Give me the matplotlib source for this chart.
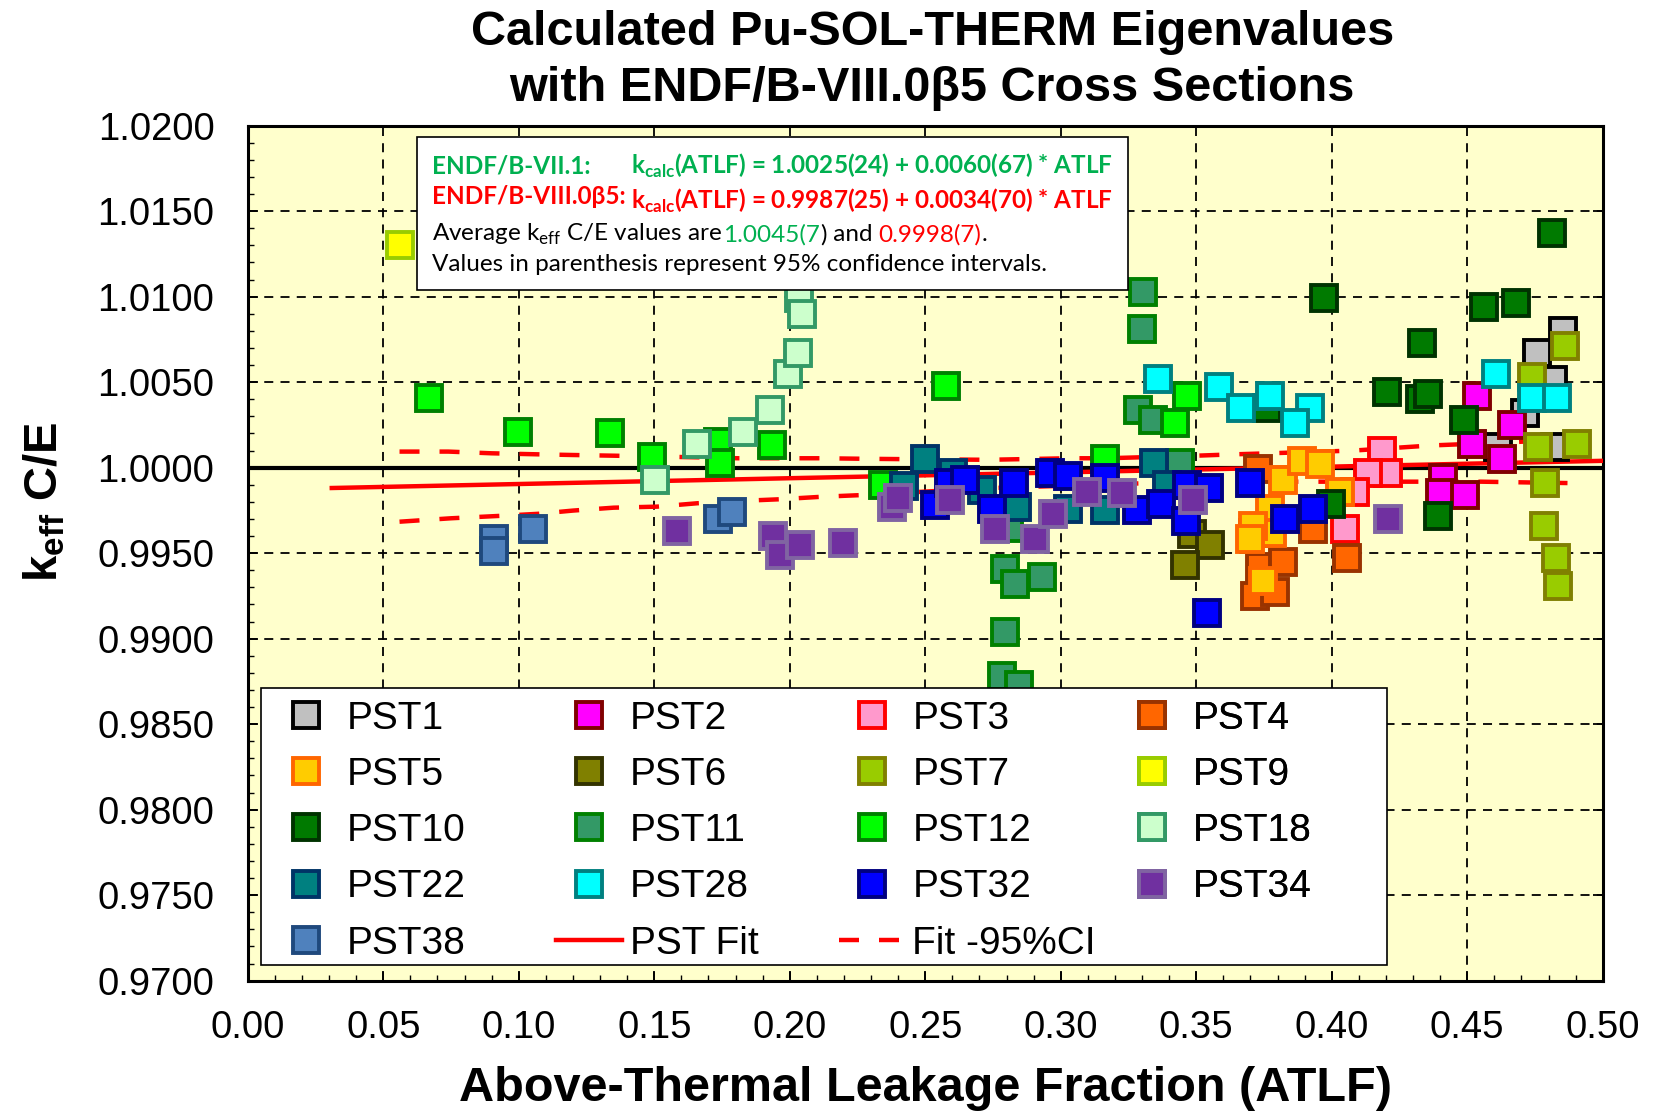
import matplotlib
matplotlib.use("Agg")
import matplotlib.pyplot as plt
from matplotlib.ticker import MultipleLocator, FormatStrFormatter
from matplotlib.offsetbox import TextArea, HPacker, VPacker, AnchoredOffsetbox
from matplotlib.patches import Rectangle

plt.rcParams["font.family"] = ["Liberation Sans", "DejaVu Sans"]
plt.rcParams["mathtext.fontset"] = "custom"
plt.rcParams["mathtext.rm"] = "Lato"
plt.rcParams["mathtext.bf"] = "Lato:bold"
plt.rcParams["mathtext.sf"] = "Liberation Sans:bold"

# ---- data (ATLF, keff C/E) ----
pst1_x = [0.4854, 0.4756, 0.4817, 0.4713, 0.4614, 0.4823]
pst1_y = [1.0080, 1.0067, 1.0051, 1.0032, 1.0012, 1.0012]
pst2_x = [0.4536, 0.4664, 0.4516, 0.4627, 0.4411, 0.4399, 0.4491]
pst2_y = [1.0042, 1.0025, 1.0014, 1.0005, 0.9994, 0.9985, 0.9984]
pst3_x = [0.4184, 0.4209, 0.4135, 0.4086, 0.4049]
pst3_y = [1.0010, 0.9997, 0.9997, 0.9986, 0.9964]
pst4_x = [0.3729, 0.3710, 0.3735, 0.3821, 0.3717, 0.3790, 0.3932, 0.4055]
pst4_y = [0.9999, 0.9962, 0.9942, 0.9945, 0.9925, 0.9927, 0.9964, 0.9947]
pst5_x = [0.3821, 0.3889, 0.3956, 0.4030, 0.3772, 0.3778, 0.3710, 0.3698, 0.3747]
pst5_y = [0.9993, 1.0004, 1.0002, 0.9986, 0.9976, 0.9962, 0.9966, 0.9958, 0.9934]
pst6_x = [0.3483, 0.3551, 0.3458]
pst6_y = [0.9961, 0.9955, 0.9943]
pst7_x = [0.4860, 0.4738, 0.4762, 0.4904, 0.4787, 0.4782, 0.4829, 0.4834]
pst7_y = [1.0071, 1.0053, 1.0012, 1.0014, 0.9991, 0.9966, 0.9947, 0.9931]
pst9_x = [0.0563]
pst9_y = [1.0130]
pst10_x = [0.4812, 0.3971, 0.4561, 0.4680, 0.4332, 0.4205, 0.4325, 0.4354,
           0.4489, 0.4393, 0.3999, 0.3760]
pst10_y = [1.0137, 1.0099, 1.0094, 1.0096, 1.0073, 1.0044, 1.0040, 1.0043,
           1.0028, 0.9972, 0.9979, 1.0035]
pst11_x = [0.3302, 0.3299, 0.3286, 0.3341, 0.3440, 0.2810, 0.2794, 0.2831,
           0.2929, 0.2794, 0.2782, 0.2847]
pst11_y = [1.0103, 1.0081, 1.0034, 1.0028, 1.0003, 0.9965, 0.9941, 0.9932,
           0.9936, 0.9904, 0.9878, 0.9873]
pst12_x = [0.0670, 0.0998, 0.1337, 0.1490, 0.1736, 0.1742, 0.1935, 0.2345,
           0.2575, 0.3163, 0.3421, 0.3465]
pst12_y = [1.0041, 1.0021, 1.0020, 1.0006, 1.0015, 1.0003, 1.0013, 0.9990,
           1.0048, 1.0005, 1.0026, 1.0042]
pst18_x = [0.1503, 0.1656, 0.1829, 0.1927, 0.1995, 0.2030, 0.2035, 0.2045]
pst18_y = [0.9993, 1.0014, 1.0021, 1.0034, 1.0055, 1.0067, 1.0099, 1.0090]
pst22_x = [0.2498, 0.2603, 0.2420, 0.2710, 0.2837, 0.3028, 0.3163, 0.3345, 0.3391]
pst22_y = [1.0005, 0.9997, 0.9989, 0.9987, 0.9977, 0.9976, 0.9975, 1.0003, 0.9990]
pst28_x = [0.3360, 0.3585, 0.3664, 0.3772, 0.3920, 0.3864, 0.4606, 0.4738, 0.4830]
pst28_y = [1.0052, 1.0047, 1.0035, 1.0042, 1.0035, 1.0026, 1.0055, 1.0041, 1.0041]
pst32_x = [0.2536, 0.2589, 0.2647, 0.2745, 0.2828, 0.2960, 0.3025, 0.3163,
           0.3280, 0.3369, 0.3467, 0.3462, 0.3548, 0.3538, 0.3698, 0.3827, 0.3932]
pst32_y = [0.9978, 0.9991, 0.9993, 0.9976, 0.9991, 0.9997, 0.9995, 0.9994,
           0.9975, 0.9979, 0.9990, 0.9969, 0.9988, 0.9915, 0.9991, 0.9970, 0.9976]
pst34_x = [0.1585, 0.1937, 0.1964, 0.2038, 0.2197, 0.2378, 0.2400, 0.2591,
           0.2757, 0.2905, 0.2972, 0.3096, 0.3225, 0.3489, 0.4209]
pst34_y = [0.9963, 0.9960, 0.9949, 0.9955, 0.9956, 0.9977, 0.9982, 0.9981,
           0.9964, 0.9958, 0.9973, 0.9986, 0.9985, 0.9981, 0.9970]
pst38_x = [0.0909, 0.0909, 0.1054, 0.1736, 0.1786]
pst38_y = [0.9958, 0.9951, 0.9964, 0.9970, 0.9974]

fit_x = [0.031, 0.500]
fit_y = [0.99881, 1.00040]
ci_up_x = [0.056, 0.074, 0.090, 0.107, 0.120, 0.135, 0.167, 0.181, 0.212, 0.227,
           0.241, 0.273, 0.303, 0.317, 0.350, 0.364, 0.377, 0.408, 0.437, 0.468, 0.480]
ci_up_y = [1.00094, 1.00094, 1.00084, 1.00078, 1.00074, 1.00070, 1.00060, 1.00055,
           1.00055, 1.00052, 1.00050, 1.00046, 1.00055, 1.00055, 1.00070, 1.00078,
           1.00084, 1.00100, 1.00130, 1.00150, 1.00160]
ci_lo_x = [0.056, 0.075, 0.093, 0.107, 0.120, 0.135, 0.151, 0.166, 0.181, 0.196,
           0.212, 0.227, 0.273, 0.333, 0.361, 0.393, 0.423, 0.455, 0.487]
ci_lo_y = [0.99684, 0.99704, 0.99718, 0.99730, 0.99749, 0.99766, 0.99772, 0.99792,
           0.99805, 0.99815, 0.99830, 0.99840, 0.99880, 0.99910, 0.99918, 0.99918,
           0.99918, 0.99918, 0.99910]

# label, x, y, face, edge
series = [
    ("PST1", pst1_x, pst1_y, "#C0C0C0", "#000000"),
    ("PST2", pst2_x, pst2_y, "#FF00FF", "#800000"),
    ("PST3", pst3_x, pst3_y, "#FF99CC", "#FF0000"),
    ("PST4", pst4_x, pst4_y, "#FF6600", "#993300"),
    ("PST5", pst5_x, pst5_y, "#FFCC00", "#FF6600"),
    ("PST6", pst6_x, pst6_y, "#808000", "#333300"),
    ("PST7", pst7_x, pst7_y, "#99CC00", "#808000"),
    ("PST9", pst9_x, pst9_y, "#FFFF00", "#99CC00"),
    ("PST10", pst10_x, pst10_y, "#007A00", "#003300"),
    ("PST11", pst11_x, pst11_y, "#339966", "#008000"),
    ("PST12", pst12_x, pst12_y, "#00FF00", "#008000"),
    ("PST18", pst18_x, pst18_y, "#CCFFCC", "#339966"),
    ("PST22", pst22_x, pst22_y, "#008080", "#003366"),
    ("PST28", pst28_x, pst28_y, "#00FFFF", "#008080"),
    ("PST32", pst32_x, pst32_y, "#0000FF", "#000080"),
    ("PST34", pst34_x, pst34_y, "#7030A0", "#8064A2"),
    ("PST38", pst38_x, pst38_y, "#4F81BD", "#1F497D"),
]

fig = plt.figure(figsize=(16.54, 11.12), dpi=100)
ax = fig.add_axes([0.1498, 0.1181, 0.8192, 0.7689])
ax.set_facecolor("#FFFFCC")

handles = {}
for i, (lab, xs, ys, fc, ec) in enumerate(series):
    h, = ax.plot(xs, ys, linestyle="none", marker="s", markersize=18.5,
                 markerfacecolor=fc, markeredgecolor=ec, markeredgewidth=2.8,
                 zorder=4 + i * 0.01, label=lab)
    handles[lab] = h

ax.axhline(1.0, color="black", lw=3, zorder=2)
hfit, = ax.plot(fit_x, fit_y, color="red", lw=3.2, zorder=3, label="PST Fit")
hci, = ax.plot(ci_up_x, ci_up_y, color="red", lw=3.2, dashes=(4.5, 4.5), zorder=3,
               label="Fit -95%CI")
ax.plot(ci_lo_x, ci_lo_y, color="red", lw=3.2, dashes=(4.5, 4.5), zorder=3)
handles["PST Fit"] = hfit
handles["Fit -95%CI"] = hci

ax.set_xlim(0.0, 0.5)
ax.set_ylim(0.97, 1.02)
ax.xaxis.set_major_locator(MultipleLocator(0.05))
ax.xaxis.set_minor_locator(MultipleLocator(0.01))
ax.yaxis.set_major_locator(MultipleLocator(0.005))
ax.yaxis.set_minor_locator(MultipleLocator(0.001))
ax.xaxis.set_major_formatter(FormatStrFormatter("%.2f"))
ax.yaxis.set_major_formatter(FormatStrFormatter("%.4f"))
ax.grid(True, which="major", color="black", lw=1.3, linestyle=(0, (5, 4)), zorder=1)
ax.set_axisbelow(True)
ax.tick_params(which="both", direction="in", labelsize=27.5)
ax.tick_params(axis="y", which="major", length=7, width=1.3, pad=24, right=True)
ax.tick_params(axis="y", which="minor", length=4, width=1.0, right=False)
ax.tick_params(axis="x", which="major", length=7, width=1.3, pad=21)
ax.tick_params(axis="x", which="minor", length=4, width=1.0)
for s in ax.spines.values():
    s.set_linewidth(2.2)

ax.set_xlabel("Above-Thermal Leakage Fraction (ATLF)", fontsize=35, fontweight="bold")
ax.xaxis.set_label_coords(0.5, -0.10)
ax.set_ylabel("k$_{\\mathsf{eff}}$ C/E", fontsize=34, fontweight="bold")
ax.yaxis.set_label_coords(-0.133, 0.56)

fig.text(0.5636, 0.9458, "Calculated Pu-SOL-THERM Eigenvalues\nwith ENDF/B-VIII.0\u03b25 Cross Sections",
         ha="center", va="center", fontsize=35, fontweight="bold", linespacing=1.30)

# ---- legend: frame + four columns ----
ax.add_patch(Rectangle((0.0094, 0.0181), 0.8314, 0.3246, transform=ax.transAxes,
                       facecolor="white", edgecolor="black", lw=1.2, zorder=10))
columns = [
    ["PST1", "PST5", "PST10", "PST22", "PST38"],
    ["PST2", "PST6", "PST11", "PST28", "PST Fit"],
    ["PST3", "PST7", "PST12", "PST32", "Fit -95%CI"],
    ["PST4", "PST9", "PST18", "PST34"],
]
col_x = [0.0187, 0.2274, 0.4360, 0.6430]
for cx, labs in zip(col_x, columns):
    leg = ax.legend([handles[l] for l in labs], labs, loc="upper left",
                    bbox_to_anchor=(cx, 0.3275), bbox_transform=ax.transAxes,
                    frameon=False, borderpad=0, borderaxespad=0,
                    handlelength=1.7, handletextpad=0.2, labelspacing=0.52,
                    prop={"family": ["Liberation Sans Narrow", "Liberation Sans"], "size": 28})
    leg.set_zorder(11)
    ax.add_artist(leg)

# ---- annotation box ----
G = "#00B050"
R = "#FF0000"
FS = 17.5
fam = ["Lato", "DejaVu Sans"]


def ta(s, c, bold=False):
    return TextArea(s, textprops=dict(color=c, fontsize=FS, family=fam,
                                      fontweight="bold" if bold else "normal"))


col_a = VPacker(children=[ta("ENDF/B-VII.1:", G, True), ta("ENDF/B-VIII.0\u03b25:", R, True)],
                align="left", pad=0, sep=5)
col_b = VPacker(children=[ta("k$_{\\mathbf{calc}}$(ATLF) = 1.0025(24) + 0.0060(67) * ATLF", G, True),
                          ta("k$_{\\mathbf{calc}}$(ATLF) = 0.9987(25) + 0.0034(70) * ATLF", R, True)],
                align="left", pad=0, sep=5)
top = HPacker(children=[col_a, col_b], align="baseline", pad=0, sep=4)
line3 = HPacker(children=[ta("Average k$_{\\mathrm{eff}}$ C/E values are ", "black"),
                          ta("1.0045(7", G), ta(")", "black"), ta(" and ", "black"),
                          ta("0.9998(7)", R), ta(".", "black")],
                align="baseline", pad=0, sep=0)
line4 = ta("Values in parenthesis represent 95% confidence intervals.", "black")
box = VPacker(children=[top, line3, line4], align="left", pad=0, sep=5)
anch = AnchoredOffsetbox(loc="upper left", child=box, pad=0.62, borderpad=0,
                         frameon=True, bbox_to_anchor=(0.125, 0.987),
                         bbox_transform=ax.transAxes, prop=dict(size=FS))
anch.patch.set_edgecolor("black")
anch.patch.set_linewidth(1.2)
anch.patch.set_boxstyle("square", pad=0)
anch.set_zorder(12)
ax.add_artist(anch)

fig.savefig("out.png", dpi=100)
